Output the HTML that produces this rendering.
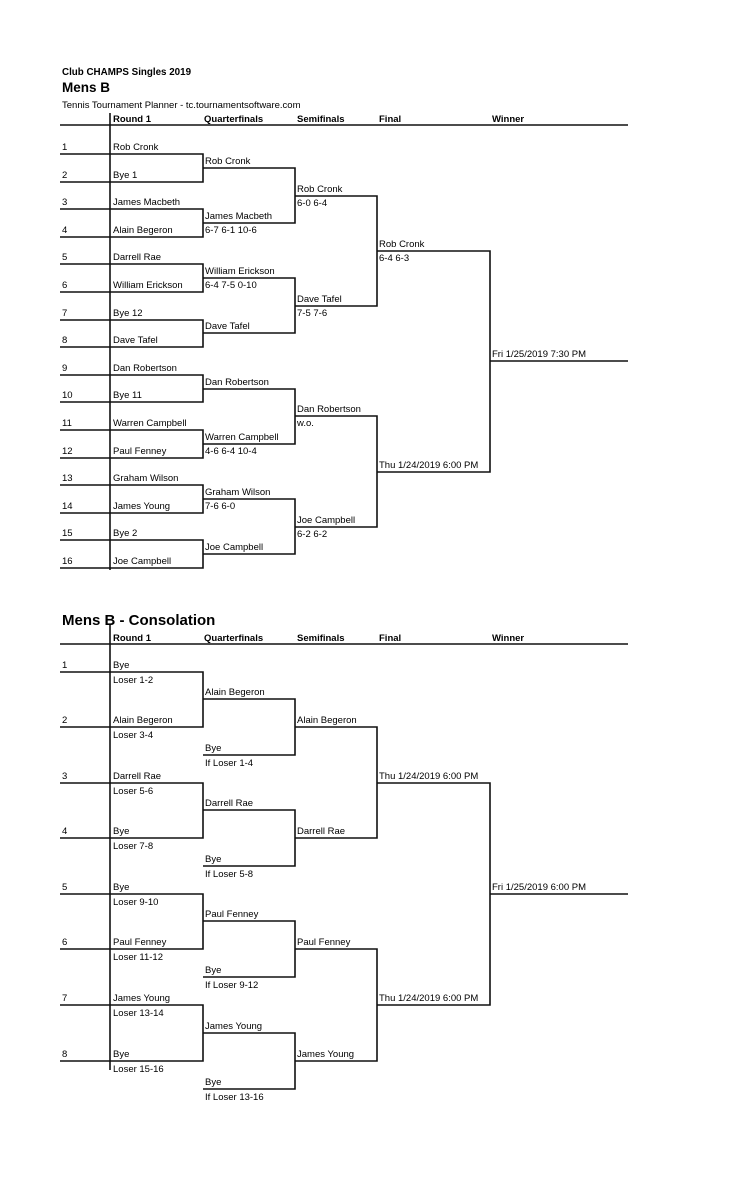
<!DOCTYPE html>
<html><head><meta charset="utf-8"><style>
html,body{margin:0;padding:0;background:#fff;width:729px;height:1200px;overflow:hidden}
svg{display:block}
text{font-family:"Liberation Sans",sans-serif;font-size:9.5px;fill:#000}
.b{font-weight:bold}
line,polyline{stroke:#111;stroke-width:1.6;fill:none}
</style></head><body>
<svg width="729" height="1200" viewBox="0 0 729 1200">
<text x="62" y="75" class="b" style="font-size:9.8px">Club CHAMPS Singles 2019</text>
<text x="62" y="92" class="b" style="font-size:13.5px">Mens B</text>
<text x="62" y="108">Tennis Tournament Planner - tc.tournamentsoftware.com</text>
<g class="b"><text x="113" y="122">Round 1</text><text x="204" y="122">Quarterfinals</text><text x="297" y="122">Semifinals</text><text x="379" y="122">Final</text><text x="492" y="122">Winner</text></g>
<line x1="60" y1="125" x2="628" y2="125"/>
<line x1="110" y1="113" x2="110" y2="570"/>
<g>
<polyline points="60,154 203,154 203,182 60,182"/>
<polyline points="60,209 203,209 203,237 60,237"/>
<polyline points="60,264 203,264 203,292 60,292"/>
<polyline points="60,320 203,320 203,347 60,347"/>
<polyline points="60,375 203,375 203,402 60,402"/>
<polyline points="60,430 203,430 203,458 60,458"/>
<polyline points="60,485 203,485 203,513 60,513"/>
<polyline points="60,540 203,540 203,568 60,568"/>
<polyline points="203,168 295,168 295,223 203,223"/>
<polyline points="203,278 295,278 295,333 203,333"/>
<polyline points="203,389 295,389 295,444 203,444"/>
<polyline points="203,499 295,499 295,554 203,554"/>
<polyline points="295,196 377,196 377,306 295,306"/>
<polyline points="295,416 377,416 377,527 295,527"/>
<polyline points="377,251 490,251 490,472 377,472"/>
<line x1="490" y1="361" x2="628" y2="361"/>
</g>
<g>
<text x="62" y="150">1</text><text x="113" y="150">Rob Cronk</text>
<text x="62" y="178">2</text><text x="113" y="178">Bye 1</text>
<text x="62" y="205">3</text><text x="113" y="205">James Macbeth</text>
<text x="62" y="233">4</text><text x="113" y="233">Alain Begeron</text>
<text x="62" y="260">5</text><text x="113" y="260">Darrell Rae</text>
<text x="62" y="288">6</text><text x="113" y="288">William Erickson</text>
<text x="62" y="316">7</text><text x="113" y="316">Bye 12</text>
<text x="62" y="343">8</text><text x="113" y="343">Dave Tafel</text>
<text x="62" y="371">9</text><text x="113" y="371">Dan Robertson</text>
<text x="62" y="398">10</text><text x="113" y="398">Bye 11</text>
<text x="62" y="426">11</text><text x="113" y="426">Warren Campbell</text>
<text x="62" y="454">12</text><text x="113" y="454">Paul Fenney</text>
<text x="62" y="481">13</text><text x="113" y="481">Graham Wilson</text>
<text x="62" y="509">14</text><text x="113" y="509">James Young</text>
<text x="62" y="536">15</text><text x="113" y="536">Bye 2</text>
<text x="62" y="564">16</text><text x="113" y="564">Joe Campbell</text>
<text x="205" y="164">Rob Cronk</text>
<text x="205" y="219">James Macbeth</text><text x="205" y="233">6-7 6-1 10-6</text>
<text x="205" y="274">William Erickson</text><text x="205" y="288">6-4 7-5 0-10</text>
<text x="205" y="329">Dave Tafel</text>
<text x="205" y="385">Dan Robertson</text>
<text x="205" y="440">Warren Campbell</text><text x="205" y="454">4-6 6-4 10-4</text>
<text x="205" y="495">Graham Wilson</text><text x="205" y="509">7-6 6-0</text>
<text x="205" y="550">Joe Campbell</text>
<text x="297" y="192">Rob Cronk</text><text x="297" y="206">6-0 6-4</text>
<text x="297" y="302">Dave Tafel</text><text x="297" y="316">7-5 7-6</text>
<text x="297" y="412">Dan Robertson</text><text x="297" y="426">w.o.</text>
<text x="297" y="523">Joe Campbell</text><text x="297" y="537">6-2 6-2</text>
<text x="379" y="247">Rob Cronk</text><text x="379" y="261">6-4 6-3</text>
<text x="379" y="468">Thu 1/24/2019 6:00 PM</text>
<text x="492" y="357">Fri 1/25/2019 7:30 PM</text>
</g>

<text x="62" y="625" class="b" style="font-size:15px">Mens B - Consolation</text>
<g class="b"><text x="113" y="641">Round 1</text><text x="204" y="641">Quarterfinals</text><text x="297" y="641">Semifinals</text><text x="379" y="641">Final</text><text x="492" y="641">Winner</text></g>
<line x1="60" y1="644" x2="628" y2="644"/>
<line x1="110" y1="625" x2="110" y2="1070"/>
<g>
<polyline points="60,672 203,672 203,727 60,727"/>
<polyline points="60,783 203,783 203,838 60,838"/>
<polyline points="60,894 203,894 203,949 60,949"/>
<polyline points="60,1005 203,1005 203,1061 60,1061"/>
<polyline points="203,699 295,699 295,755 203,755"/>
<polyline points="203,810 295,810 295,866 203,866"/>
<polyline points="203,921 295,921 295,977 203,977"/>
<polyline points="203,1033 295,1033 295,1089 203,1089"/>
<polyline points="295,727 377,727 377,838 295,838"/>
<polyline points="295,949 377,949 377,1061 295,1061"/>
<polyline points="377,783 490,783 490,1005 377,1005"/>
<line x1="490" y1="894" x2="628" y2="894"/>
</g>
<g>
<text x="62" y="668">1</text><text x="113" y="668">Bye</text><text x="113" y="683">Loser  1-2</text>
<text x="62" y="723">2</text><text x="113" y="723">Alain Begeron</text><text x="113" y="738">Loser  3-4</text>
<text x="62" y="779">3</text><text x="113" y="779">Darrell Rae</text><text x="113" y="794">Loser  5-6</text>
<text x="62" y="834">4</text><text x="113" y="834">Bye</text><text x="113" y="849">Loser  7-8</text>
<text x="62" y="890">5</text><text x="113" y="890">Bye</text><text x="113" y="905">Loser  9-10</text>
<text x="62" y="945">6</text><text x="113" y="945">Paul Fenney</text><text x="113" y="960">Loser  11-12</text>
<text x="62" y="1001">7</text><text x="113" y="1001">James Young</text><text x="113" y="1016">Loser  13-14</text>
<text x="62" y="1057">8</text><text x="113" y="1057">Bye</text><text x="113" y="1072">Loser  15-16</text>
<text x="205" y="695">Alain Begeron</text>
<text x="205" y="751">Bye</text><text x="205" y="766">If Loser  1-4</text>
<text x="205" y="806">Darrell Rae</text>
<text x="205" y="862">Bye</text><text x="205" y="877">If Loser  5-8</text>
<text x="205" y="917">Paul Fenney</text>
<text x="205" y="973">Bye</text><text x="205" y="988">If Loser  9-12</text>
<text x="205" y="1029">James Young</text>
<text x="205" y="1085">Bye</text><text x="205" y="1100">If Loser  13-16</text>
<text x="297" y="723">Alain Begeron</text>
<text x="297" y="834">Darrell Rae</text>
<text x="297" y="945">Paul Fenney</text>
<text x="297" y="1057">James Young</text>
<text x="379" y="779">Thu 1/24/2019 6:00 PM</text>
<text x="379" y="1001">Thu 1/24/2019 6:00 PM</text>
<text x="492" y="890">Fri 1/25/2019 6:00 PM</text>
</g>
</svg>
</body></html>
